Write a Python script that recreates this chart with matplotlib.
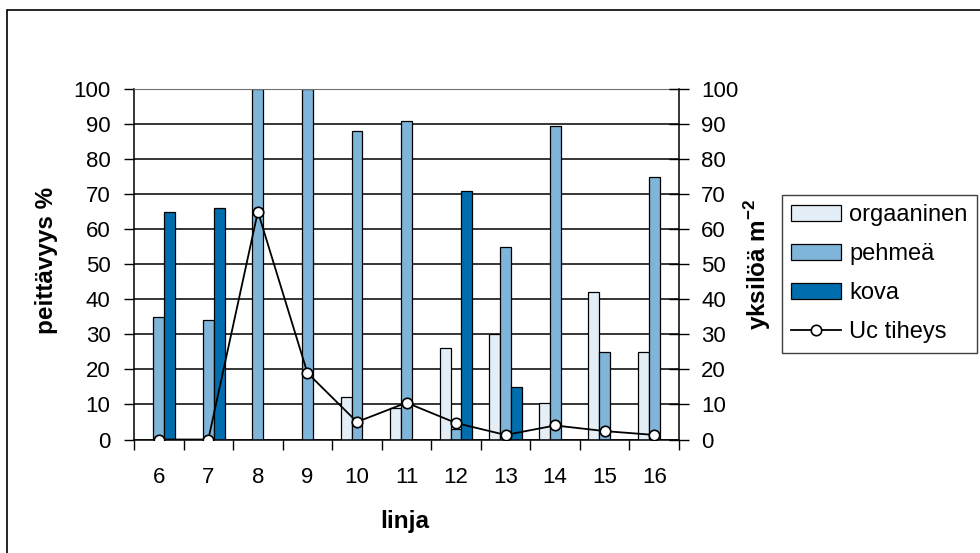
import numpy as np
import matplotlib
matplotlib.use("Agg")
import matplotlib.pyplot as plt
from matplotlib.patches import Rectangle

plt.rcParams.update({
    'font.family': ['Liberation Sans', 'DejaVu Sans'],
    'mathtext.fontset': 'custom',
    'mathtext.rm': 'Liberation Sans',
    'mathtext.bf': 'Liberation Sans:bold',
})

linja = [6, 7, 8, 9, 10, 11, 12, 13, 14, 15, 16]
orgaaninen = [0, 0, 0, 0, 12, 9, 26, 30, 10.5, 42, 25]
pehmea = [35, 34, 100, 100, 88, 91, 3, 55, 89.5, 25, 75]
kova = [65, 66, 0, 0, 0, 0, 71, 15, 0, 0, 0]
uc_tiheys = [0, 0, 65, 19, 5, 10.5, 4.7, 1.3, 4, 2.4, 1.3]

c_org = '#e4eef6'
c_peh = '#7fb5d9'
c_kova = '#006eae'

fig = plt.figure(figsize=(9.8, 5.53), dpi=100)
ax = fig.add_axes([134/980, 1 - 439.5/553, 545/980, 350.5/553])

x = np.array(linja, dtype=float)
w = 0.22
ax.bar(x - w, orgaaninen, w, color=c_org, edgecolor='black', linewidth=0.9, label='orgaaninen')
ax.bar(x, pehmea, w, color=c_peh, edgecolor='black', linewidth=0.9, label='pehmeä')
ax.bar(x + w, kova, w, color=c_kova, edgecolor='black', linewidth=0.9, label='kova')

ax.set_xlim(5.5, 16.5)
ax.set_ylim(0, 100)
ax.set_yticks(range(0, 101, 10))
ax.set_xticks(linja)
ax.set_xticks(np.arange(5.5, 16.6, 1), minor=True)
ax.tick_params(axis='x', which='major', length=0, pad=20, labelsize=16)
ax.tick_params(axis='x', which='minor', length=7, width=1, direction='out')
ax.tick_params(axis='y', length=7, width=1, direction='out', pad=10, labelsize=16)
ax.set_axisbelow(True)
ax.grid(axis='y', color='black', linewidth=1.1)
ax.spines['top'].set_color('#707070')
ax.spines['right'].set_visible(False)
for s in ('left', 'bottom'):
    ax.spines[s].set_linewidth(1.1)

ax.set_xlabel('linja', fontsize=17.5, fontweight='bold', va='center')
ax.xaxis.set_label_coords(0.497, -0.233)
ax.set_ylabel('peittävyys %', fontsize=17.5, fontweight='bold', va='center')
ax.yaxis.set_label_coords(-0.16, 0.51)

# density on the secondary axis
ax2 = ax.twinx()
ax2.plot(x, uc_tiheys, color='black', linewidth=1.3, marker='o', markersize=7.5,
         markerfacecolor='white', markeredgecolor='black', markeredgewidth=1.2,
         label='Uc tiheys')
ax2.set_ylim(0, 100)
ax2.set_yticks(range(0, 101, 10))
ax2.tick_params(axis='y', length=14, width=1, direction='inout', pad=9, labelsize=16)
for s in ('top', 'left', 'bottom'):
    ax2.spines[s].set_visible(False)
ax2.spines['right'].set_linewidth(1.1)
ax2.set_ylabel(r'yksilöä m$^{\mathbf{-2}}$', fontsize=17.5, fontweight='bold', va='center')
ax2.yaxis.set_label_coords(1.145, 0.50)

h1, l1 = ax.get_legend_handles_labels()
h2, l2 = ax2.get_legend_handles_labels()
leg = fig.legend(h1 + h2, l1 + l2, loc='upper left',
                 bbox_to_anchor=(782/980, 1 - 195/553), bbox_transform=fig.transFigure,
                 borderaxespad=0, fontsize=17, fancybox=False, framealpha=1,
                 edgecolor='#404040', handlelength=2.1, handletextpad=0.35,
                 labelspacing=0.72, borderpad=0.4, numpoints=1)
leg.get_frame().set_linewidth(1)

# outer chart frame
fig.add_artist(Rectangle((7/980, -0.05), 1.1, 1 - 10/553 + 0.05, transform=fig.transFigure,
                         fill=False, edgecolor='black', linewidth=1.2))

fig.savefig('out.png', dpi=100)
